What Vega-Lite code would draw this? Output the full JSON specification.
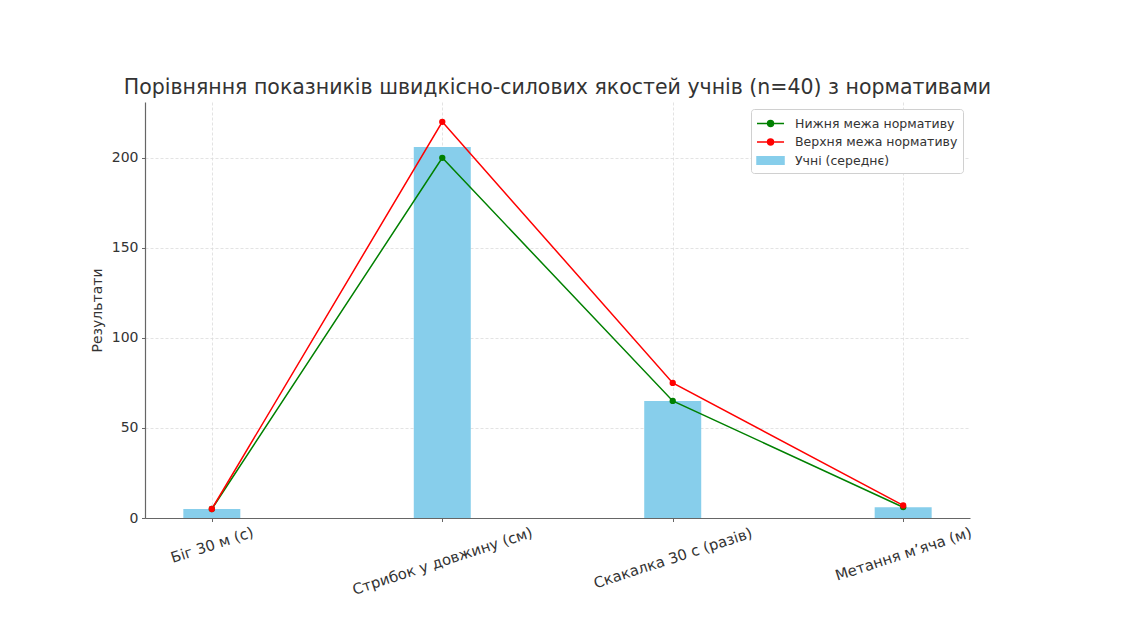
{
  "$schema": "https://vega.github.io/schema/vega-lite/v6.json",
  "autosize": "none",
  "padding": {"left": 145, "top": 102, "right": 176, "bottom": 101},
  "width": 825,
  "height": 416,
  "background": "white",
  "title": {
    "text": "Порівняння показників швидкісно-силових якостей учнів (n=40) з нормативами",
    "font": "DejaVu Sans",
    "fontSize": 20.5,
    "fontWeight": "normal",
    "color": "#333333",
    "anchor": "middle",
    "offset": 4,
    "limit": 1100
  },
  "data": {
    "values": [
      {"test": "Біг 30 м (с)", "series": "Учні (середнє)", "value": 5},
      {"test": "Стрибок у довжину (см)", "series": "Учні (середнє)", "value": 206},
      {"test": "Скакалка 30 с (разів)", "series": "Учні (середнє)", "value": 65},
      {"test": "Метання м’яча (м)", "series": "Учні (середнє)", "value": 6},
      {"test": "Біг 30 м (с)", "series": "Нижня межа нормативу", "value": 5},
      {"test": "Стрибок у довжину (см)", "series": "Нижня межа нормативу", "value": 200},
      {"test": "Скакалка 30 с (разів)", "series": "Нижня межа нормативу", "value": 65},
      {"test": "Метання м’яча (м)", "series": "Нижня межа нормативу", "value": 6},
      {"test": "Біг 30 м (с)", "series": "Верхня межа нормативу", "value": 5},
      {"test": "Стрибок у довжину (см)", "series": "Верхня межа нормативу", "value": 220},
      {"test": "Скакалка 30 с (разів)", "series": "Верхня межа нормативу", "value": 75},
      {"test": "Метання м’яча (м)", "series": "Верхня межа нормативу", "value": 7}
    ]
  },
  "encoding": {
    "x": {
      "field": "test",
      "type": "nominal",
      "sort": ["Біг 30 м (с)", "Стрибок у довжину (см)", "Скакалка 30 с (разів)", "Метання м’яча (м)"],
      "scale": {"type": "point", "padding": 0.29},
      "axis": {
        "title": null,
        "grid": true,
        "labelAngle": -18,
        "labelAlign": "center",
        "labelBaseline": "middle",
        "labelFontSize": 14.8,
        "labelLimit": 400,
        "labelPadding": {
          "condition": [
            {"test": "datum.value === 'Біг 30 м (с)'", "value": 24},
            {"test": "datum.value === 'Стрибок у довжину (см)'", "value": 40},
            {"test": "datum.value === 'Скакалка 30 с (разів)'", "value": 37}
          ],
          "value": 33
        }
      }
    },
    "y": {
      "field": "value",
      "type": "quantitative",
      "scale": {"domain": [0, 231], "nice": false},
      "axis": {
        "title": "Результати",
        "values": [0, 50, 100, 150, 200],
        "grid": true,
        "titlePadding": 7
      }
    },
    "color": {
      "field": "series",
      "type": "nominal",
      "scale": {
        "domain": ["Нижня межа нормативу", "Верхня межа нормативу", "Учні (середнє)"],
        "range": ["#008000", "#ff0000", "#87ceeb"]
      },
      "legend": {
        "title": null,
        "orient": "top-right",
        "offset": 7,
        "fillColor": "white",
        "strokeColor": "#d0d0d0",
        "cornerRadius": 3,
        "padding": 5,
        "symbolSize": 289,
        "labelOffset": 20,
        "labelLimit": 300,
        "rowPadding": 2.5,
        "labelFontSize": 12.5,
        "encode": {
          "symbols": {
            "update": {
              "shape": {"signal": "datum.value === 'Учні (середнє)' ? 'M-1,-0.45H2.18V0.45H-1Z' : 'M-1,0H2.18M0.94,0A0.35,0.35,0,1,1,0.24,0A0.35,0.35,0,1,1,0.94,0Z'"},
              "fill": {"scale": "color", "field": "value"},
              "stroke": {"signal": "datum.value === 'Учні (середнє)' ? 'transparent' : scale('color', datum.value)"},
              "strokeWidth": {"value": 1.5},
              "opacity": {"value": 1}
            }
          }
        }
      }
    }
  },
  "layer": [
    {
      "transform": [{"filter": "datum.series === 'Учні (середнє)'"}],
      "mark": {"type": "bar", "width": 57}
    },
    {
      "transform": [{"filter": "datum.series !== 'Учні (середнє)'"}],
      "mark": {"type": "line", "strokeWidth": 1.5, "point": {"filled": true, "size": 40}}
    }
  ],
  "config": {
    "font": "DejaVu Sans",
    "view": {"stroke": null},
    "axis": {
      "labelFont": "DejaVu Sans",
      "labelFontSize": 14,
      "labelColor": "#333333",
      "titleFont": "DejaVu Sans",
      "titleFontSize": 14,
      "titleFontWeight": "normal",
      "titleColor": "#333333",
      "domainColor": "#666666",
      "domainWidth": 1.2,
      "tickColor": "#666666",
      "tickSize": 3.5,
      "labelPadding": 3.5,
      "gridColor": "#dcdcdc",
      "gridDash": [3, 2],
      "gridWidth": 0.8
    },
    "legend": {
      "labelFont": "DejaVu Sans",
      "labelColor": "#333333"
    }
  }
}
